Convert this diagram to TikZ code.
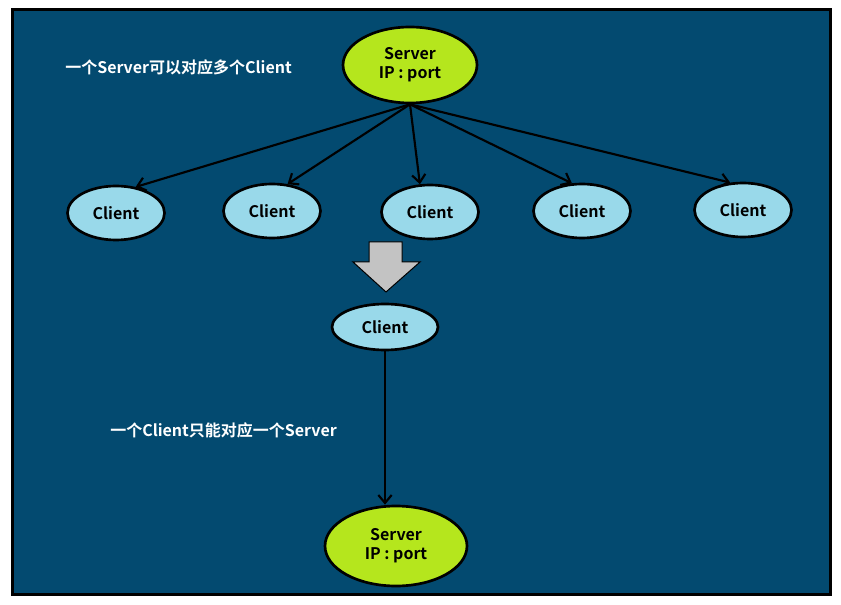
\documentclass[tikz,border=0pt]{standalone}
\usepackage{fontspec}
\setmainfont{Noto Sans CJK SC}[BoldFont={Noto Sans CJK SC Bold}]
\usetikzlibrary{shapes.geometric,arrows.meta}
\definecolor{bgblue}{RGB}{3,74,112}
\definecolor{srvgreen}{RGB}{181,230,29}
\definecolor{cltblue}{RGB}{153,217,234}
\definecolor{arrgray}{RGB}{195,195,195}

\begin{document}
\begin{tikzpicture}[x=0.75pt,y=-0.75pt,
  font=\fontsize{12}{14}\selectfont\bfseries,
  server/.style={ellipse,draw,line width=2pt,fill=srvgreen,inner sep=0pt,align=center},
  client/.style={ellipse,draw,line width=2pt,fill=cltblue,inner sep=0pt,minimum width=72.75pt,minimum height=40.5pt},
  note/.style={text=white,anchor=west,inner sep=0pt},
  link/.style={-{Straight Barb[length=6pt,width=10pt]},line width=1.6pt}]
\useasboundingbox (0,0) rectangle (841,605);
\draw[fill=bgblue,line width=2.25pt] (12,10) rectangle (830,594);

% one server, many clients
\node[server,minimum width=100.5pt,minimum height=57pt] (srv) at (410,65) {Server\\IP : port};
\node[note] (txt1) at (65,67) {一个Server可以对应多个Client};
\node[client] (c1) at (116,213) {Client};
\node[client] (c2) at (272,211) {Client};
\node[client] (c3) at (430,212) {Client};
\node[client] (c4) at (582,211) {Client};
\node[client] (c5) at (743,210) {Client};
\draw[link] (srv.south) -- (c1.53);
\draw[link] (srv.south) -- (c2.60);
\draw[link] (srv.south) -- (c3.110);
\draw[link] (srv.south) -- (c4.110);
\draw[link] (srv.south) -- (c5.115);

% big down arrow
\draw[fill=arrgray,line width=0.75pt] (369,242) -- (402,242) -- (402,262) -- (420,262)
  -- (386,292) -- (353,262) -- (369,262) -- cycle;

% one client, one server
\node[client,minimum width=79.5pt,minimum height=34.5pt] (mc) at (385,327) {Client};
\node[note] (txt2) at (110,430) {一个Client只能对应一个Server};
\node[server,minimum width=106.5pt,minimum height=60pt] (srv2) at (396,546) {Server\\IP : port};
\draw[link] (mc.south) -- (mc.south |- srv2.north);
\end{tikzpicture}
\end{document}
